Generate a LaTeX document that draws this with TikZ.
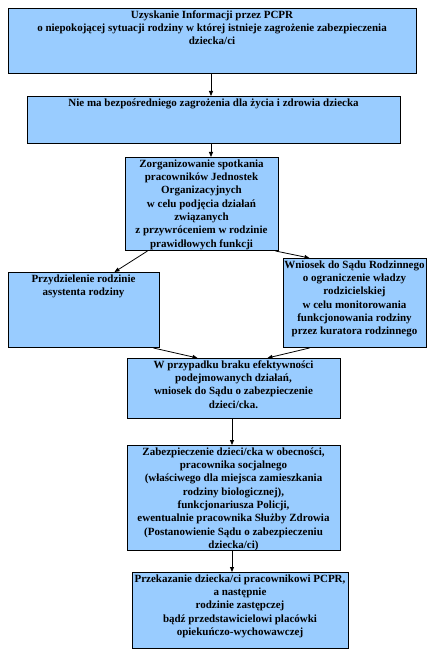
\documentclass[tikz,border=0pt]{standalone}
\usepackage{fontspec}
\setmainfont{Liberation Serif}
\usetikzlibrary{arrows.meta, positioning, calc}
\definecolor{stageblue}{RGB}{153,204,255}
\newcommand{\boxtext}[3]{\parbox[t][#2][t]{#1}{\makebox[#1]{\begin{tabular}[t]{@{}c@{}}#3\end{tabular}}}}

\begin{document}
\begin{tikzpicture}[
    x=1pt, y=-1pt,
    stage/.style={draw, line width=1pt, fill=stageblue, anchor=north, inner sep=2pt, inner ysep=0.5pt,
                  font=\fontsize{11}{13.3}\selectfont\bfseries},
    arrow/.style={-{Triangle[length=5pt,width=4pt]}, line width=0.8pt}
]
    \useasboundingbox (0,0) rectangle (437,668);

    % Information and assessment
    \node[stage] (info) at (212,8) {\boxtext{404pt}{64pt}{Uzyskanie Informacji przez PCPR\\
        o niepokojącej sytuacji rodziny w której istnieje zagrożenie zabezpieczenia\\ dziecka/ci}};
    \node[stage] (threat) at (213.5,96) {\boxtext{369pt}{46pt}{Nie ma bezpośredniego zagrożenia dla życia i zdrowia dziecka}};
    \node[stage] (meeting) at (201.5,157) {\boxtext{149pt}{92pt}{Zorganizowanie spotkania\\
        pracowników Jednostek\\ Organizacyjnych\\ w celu podjęcia działań\\ związanych\\
        z przywróceniem w rodzinie\\ prawidłowych funkcji}};

    % Two paths of support
    \node[stage] (assistant) at (83.5,272) {\boxtext{147pt}{74pt}{Przydzielenie rodzinie\\ asystenta rodziny}};
    \node[stage] (court) at (354.5,258) {\boxtext{139pt}{88pt}{Wniosek do Sądu Rodzinnego\\
        o ograniczenie władzy\\ rodzicielskiej\\ w celu monitorowania\\
        funkcjonowania rodziny\\ przez kuratora rodzinnego}};

    % Securing the child
    \node[stage] (petition) at (233.5,358) {\boxtext{209pt}{59pt}{W przypadku braku efektywności\\
        podejmowanych działań,\\ wniosek do Sądu o zabezpieczenie\\ dzieci/cka.}};
    \node[stage] (secure) at (233.5,445) {\boxtext{209pt}{104pt}{Zabezpieczenie dzieci/cka w obecności,\\
        pracownika socjalnego\\ (właściwego dla miejsca zamieszkania\\ rodziny biologicznej),\\
        funkcjonariusza Policji,\\ ewentualnie pracownika Służby Zdrowia\\
        (Postanowienie Sądu o zabezpieczeniu\\ dziecka/ci)}};
    \node[stage] (handover) at (240,572) {\boxtext{212pt}{75pt}{Przekazanie dziecka/ci pracownikowi PCPR,\\
        a następnie\\ rodzinie zastępczej\\ bądź przedstawicielowi placówki\\ opiekuńczo-wychowawczej}};

    % Connections
    \draw[arrow] (info.south -| 211,0) -- (threat.north -| 211,0);
    \draw[arrow] (threat.south -| 211,0) -- (meeting.north -| 211,0);
    \draw[arrow] ([xshift=23pt]meeting.south west) -- ([xshift=107pt]assistant.north west);
    \draw[arrow] ([xshift=-3pt]meeting.south east) -- ([xshift=27pt]court.north west);
    \draw[arrow] ([xshift=-6pt]assistant.south east) -- ([xshift=71pt]petition.north west);
    \draw[arrow] ([xshift=27pt]court.south west) -- ([xshift=-73pt]petition.north east);
    \draw[arrow] (petition.south -| 232,0) -- (secure.north -| 232,0);
    \draw[arrow] (secure.south -| 232,0) -- (handover.north -| 232,0);
\end{tikzpicture}
\end{document}
